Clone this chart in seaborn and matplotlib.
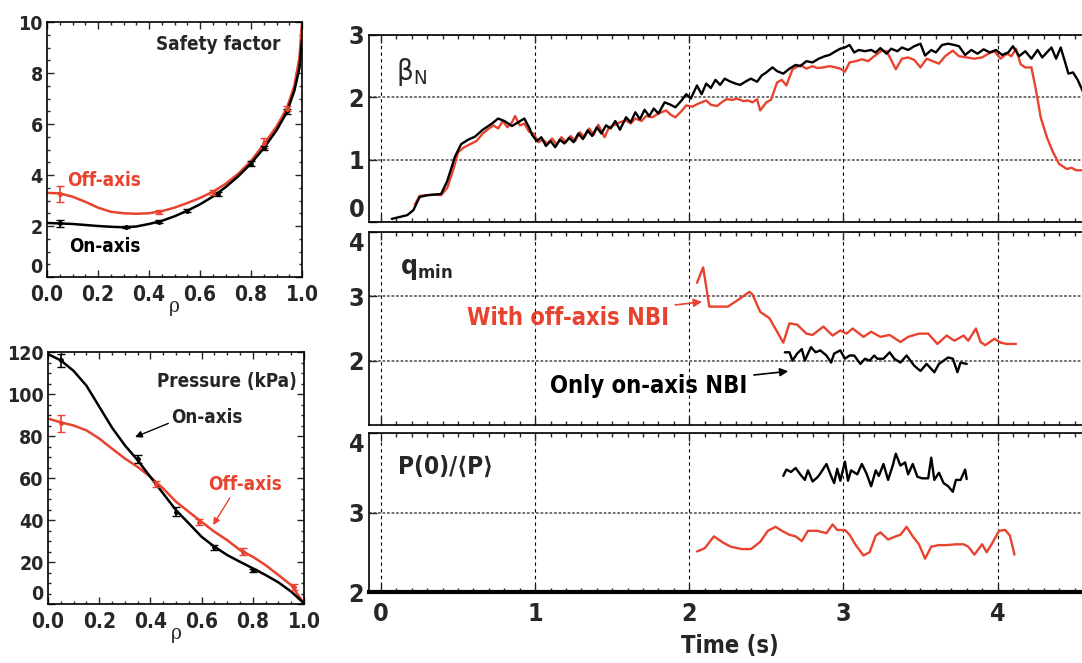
import matplotlib
matplotlib.use("Agg")
import matplotlib.pyplot as plt
from matplotlib.ticker import MultipleLocator
import seaborn as sns

RED = "#e8432e"

# ---- safety factor profile (left top) ----
rho_q = [0, 0.05, 0.1, 0.15, 0.2, 0.25, 0.3, 0.35, 0.4, 0.45, 0.5, 0.55, 0.6,
         0.65, 0.7, 0.75, 0.8, 0.85, 0.9, 0.94, 0.97, 0.99, 1.0]
q_on = [2.12, 2.10, 2.08, 2.04, 2.00, 1.97, 1.95, 1.98, 2.08, 2.20, 2.38, 2.60, 2.85,
        3.15, 3.52, 3.95, 4.45, 5.05, 5.75, 6.45, 7.3, 8.2, 9.3]
q_off = [3.30, 3.28, 3.15, 2.95, 2.72, 2.56, 2.50, 2.48, 2.50, 2.58, 2.72, 2.90, 3.10,
         3.34, 3.65, 4.05, 4.55, 5.20, 5.90, 6.60, 7.5, 8.6, 10.0]
q_on_err_rho = [0.05, 0.31, 0.44, 0.55, 0.67, 0.80, 0.85, 0.94]
q_on_err_val = [2.10, 1.95, 2.17, 2.60, 3.25, 4.45, 5.05, 6.50]
q_on_err = [0.15, 0.04, 0.05, 0.05, 0.07, 0.1, 0.08, 0.1]
q_off_err_rho = [0.05, 0.44, 0.65, 0.85, 0.94]
q_off_err_val = [3.25, 2.55, 3.32, 5.25, 6.60]
q_off_err = [0.3, 0.06, 0.1, 0.2, 0.1]

# ---- pressure profile (left bottom) ----
rho_p = [0, 0.05, 0.1, 0.15, 0.2, 0.25, 0.3, 0.35, 0.4, 0.45, 0.5, 0.55, 0.6,
         0.65, 0.7, 0.75, 0.8, 0.85, 0.9, 0.95, 1.0]
p_on = [119, 116, 111, 104, 94, 84, 75.6, 68.5, 60.5, 52.6, 44.7, 38.4, 32,
        27.3, 23.3, 20.1, 17, 13.8, 10.3, 5.9, 0.3]
p_off = [88.3, 86.5, 85, 82.7, 78.8, 74, 69.3, 65.3, 60.5, 55, 48.7, 43.9, 39.1,
         34.4, 30.4, 25.7, 22.5, 18.5, 13.8, 9, 0.3]
p_on_err_rho = [0.05, 0.35, 0.50, 0.65, 0.80]
p_on_err_val = [116, 69, 44, 27, 16]
p_on_err = [3, 2, 2, 1.2, 0.8]
p_off_err_rho = [0.05, 0.42, 0.59, 0.76, 0.96]
p_off_err_val = [86, 57, 39, 25, 8]
p_off_err = [4, 1.5, 1.5, 1.5, 1.5]

# ---- beta_N time traces ----
t_beta_on = [0.07, 0.17, 0.21, 0.25, 0.30, 0.35, 0.39, 0.43, 0.48, 0.52, 0.565, 0.61, 0.66,
             0.72, 0.76, 0.80, 0.85, 0.89, 0.93, 0.96, 0.98, 1.01, 1.04, 1.07, 1.10, 1.13,
             1.16, 1.19, 1.22, 1.25, 1.28, 1.31, 1.34, 1.37, 1.40, 1.43, 1.46, 1.49, 1.52,
             1.55, 1.59, 1.62, 1.65, 1.68, 1.71, 1.74, 1.77, 1.80, 1.84, 1.88, 1.91, 1.95,
             1.98, 2.01, 2.05, 2.08, 2.11, 2.14, 2.17, 2.20, 2.23, 2.26, 2.30, 2.33, 2.37,
             2.40, 2.44, 2.47, 2.50, 2.54, 2.57, 2.61, 2.65, 2.69, 2.72, 2.76, 2.80, 2.84,
             2.88, 2.91, 2.95, 2.98, 3.01, 3.04, 3.07, 3.10, 3.14, 3.18, 3.21, 3.24, 3.28,
             3.31, 3.35, 3.38, 3.42, 3.46, 3.50, 3.53, 3.57, 3.60, 3.64, 3.68, 3.72, 3.75,
             3.79, 3.83, 3.87, 3.91, 3.95, 3.99, 4.03, 4.07, 4.10, 4.14, 4.18, 4.22, 4.26,
             4.29, 4.32, 4.35, 4.38, 4.41, 4.44, 4.46, 4.49, 4.52, 4.56]
beta_on = [0.05, 0.11, 0.19, 0.40, 0.43, 0.44, 0.45, 0.66, 1.05, 1.25, 1.32, 1.37, 1.48,
           1.58, 1.66, 1.62, 1.54, 1.60, 1.66, 1.52, 1.40, 1.30, 1.36, 1.22, 1.30, 1.20,
           1.32, 1.26, 1.35, 1.28, 1.42, 1.33, 1.47, 1.38, 1.52, 1.42, 1.55, 1.50, 1.62,
           1.48, 1.68, 1.60, 1.76, 1.65, 1.80, 1.70, 1.82, 1.74, 1.92, 1.88, 1.84, 1.95,
           2.05, 1.98, 2.19, 2.05, 2.22, 2.15, 2.28, 2.20, 2.30, 2.26, 2.22, 2.20, 2.26,
           2.30, 2.25, 2.35, 2.40, 2.48, 2.42, 2.38, 2.46, 2.52, 2.50, 2.58, 2.56, 2.62,
           2.66, 2.68, 2.74, 2.78, 2.80, 2.84, 2.72, 2.76, 2.74, 2.76, 2.72, 2.79, 2.70,
           2.78, 2.74, 2.80, 2.76, 2.82, 2.86, 2.67, 2.76, 2.72, 2.84, 2.86, 2.84, 2.82,
           2.68, 2.76, 2.70, 2.77, 2.72, 2.76, 2.68, 2.72, 2.82, 2.66, 2.74, 2.62, 2.76,
           2.64, 2.72, 2.80, 2.62, 2.80, 2.55, 2.38, 2.40, 2.28, 2.06]
t_beta_off = [0.22, 0.25, 0.30, 0.35, 0.39, 0.43, 0.47, 0.50, 0.54, 0.58, 0.62, 0.66, 0.70,
              0.73, 0.76, 0.79, 0.82, 0.85, 0.87, 0.90, 0.93, 0.96, 0.99, 1.02, 1.05, 1.08,
              1.11, 1.14, 1.17, 1.20, 1.23, 1.26, 1.29, 1.32, 1.35, 1.38, 1.41, 1.45, 1.48,
              1.51, 1.55, 1.59, 1.62, 1.65, 1.69, 1.72, 1.76, 1.80, 1.85, 1.88, 1.91, 1.95,
              1.98, 2.02, 2.06, 2.11, 2.14, 2.18, 2.21, 2.24, 2.28, 2.31, 2.35, 2.38, 2.41,
              2.44, 2.46, 2.50, 2.53, 2.57, 2.60, 2.63, 2.67, 2.72, 2.76, 2.80, 2.83, 2.87,
              2.91, 2.95, 2.98, 3.01, 3.04, 3.08, 3.12, 3.16, 3.20, 3.25, 3.28, 3.31, 3.34,
              3.38, 3.42, 3.46, 3.50, 3.54, 3.58, 3.62, 3.66, 3.71, 3.75, 3.80, 3.85, 3.90,
              3.94, 3.98, 4.02, 4.06, 4.09, 4.12, 4.15, 4.18, 4.22, 4.25, 4.28, 4.32, 4.36,
              4.40, 4.45, 4.48, 4.51, 4.56]
beta_off = [0.28, 0.42, 0.43, 0.44, 0.43, 0.55, 0.85, 1.12, 1.20, 1.25, 1.30, 1.42, 1.50,
            1.55, 1.50, 1.62, 1.52, 1.60, 1.70, 1.55, 1.58, 1.45, 1.42, 1.28, 1.32, 1.26,
            1.34, 1.24, 1.36, 1.28, 1.38, 1.30, 1.44, 1.36, 1.50, 1.40, 1.56, 1.36, 1.52,
            1.55, 1.60, 1.63, 1.58, 1.66, 1.62, 1.70, 1.68, 1.74, 1.79, 1.72, 1.68, 1.78,
            1.87, 1.85, 1.90, 1.95, 1.88, 1.86, 1.92, 1.97, 1.96, 1.98, 1.94, 1.95, 1.92,
            1.97, 1.79, 1.92, 1.96, 2.24, 2.28, 2.19, 2.45, 2.52, 2.46, 2.50, 2.47, 2.48,
            2.50, 2.48, 2.46, 2.41, 2.56, 2.58, 2.61, 2.58, 2.66, 2.75, 2.74, 2.60, 2.45,
            2.62, 2.64, 2.60, 2.48, 2.62, 2.58, 2.54, 2.66, 2.75, 2.66, 2.64, 2.62, 2.64,
            2.70, 2.74, 2.62, 2.70, 2.66, 2.78, 2.53, 2.48, 2.48, 2.11, 1.68, 1.36, 1.12,
            0.93, 0.85, 0.87, 0.83, 0.83]

# ---- q_min time traces ----
t_qmin_off = [2.05, 2.09, 2.13, 2.19, 2.25, 2.32, 2.39, 2.41, 2.46, 2.52, 2.57, 2.61, 2.65,
              2.70, 2.76, 2.80, 2.87, 2.93, 2.98, 3.02, 3.06, 3.13, 3.18, 3.24, 3.30, 3.37,
              3.42, 3.49, 3.55, 3.61, 3.67, 3.72, 3.78, 3.81, 3.86, 3.89, 3.92, 3.98, 4.02,
              4.06, 4.12]
qmin_off = [3.21, 3.45, 2.84, 2.84, 2.84, 2.95, 3.07, 3.03, 2.76, 2.66, 2.45, 2.28, 2.58,
            2.56, 2.42, 2.40, 2.53, 2.39, 2.47, 2.42, 2.50, 2.37, 2.45, 2.37, 2.40, 2.29,
            2.37, 2.42, 2.42, 2.26, 2.39, 2.31, 2.39, 2.31, 2.50, 2.29, 2.24, 2.34, 2.28,
            2.26, 2.26]
t_qmin_on = [2.62, 2.65, 2.67, 2.70, 2.73, 2.75, 2.77, 2.79, 2.82, 2.85, 2.89, 2.92, 2.94,
             2.98, 3.01, 3.04, 3.07, 3.11, 3.14, 3.17, 3.20, 3.22, 3.26, 3.30, 3.33, 3.37,
             3.41, 3.46, 3.50, 3.54, 3.59, 3.62, 3.65, 3.68, 3.71, 3.74, 3.76, 3.80]
qmin_on = [2.13, 2.13, 2.00, 2.11, 2.18, 2.00, 2.11, 2.21, 2.13, 2.16, 2.08, 1.97, 2.11,
           2.16, 2.03, 2.08, 2.08, 1.95, 2.03, 2.00, 2.08, 2.03, 2.03, 2.13, 2.03, 1.97,
           2.08, 1.92, 1.84, 1.95, 1.82, 1.95, 2.00, 2.05, 2.03, 1.82, 1.97, 1.95]

# ---- P(0)/<P> time traces ----
t_peak_on = [2.61, 2.63, 2.66, 2.69, 2.72, 2.75, 2.77, 2.80, 2.83, 2.85, 2.89, 2.92, 2.94,
             2.96, 2.98, 3.01, 3.03, 3.05, 3.09, 3.12, 3.15, 3.18, 3.21, 3.23, 3.26, 3.29,
             3.32, 3.34, 3.37, 3.40, 3.42, 3.45, 3.48, 3.51, 3.55, 3.57, 3.59, 3.62, 3.65,
             3.68, 3.71, 3.73, 3.76, 3.79, 3.80]
peak_on = [3.46, 3.54, 3.51, 3.56, 3.48, 3.41, 3.53, 3.39, 3.44, 3.49, 3.61, 3.46, 3.37,
           3.55, 3.40, 3.64, 3.40, 3.53, 3.48, 3.61, 3.49, 3.33, 3.53, 3.46, 3.61, 3.41,
           3.59, 3.74, 3.59, 3.63, 3.48, 3.61, 3.45, 3.43, 3.43, 3.69, 3.41, 3.50, 3.37,
           3.33, 3.26, 3.41, 3.41, 3.54, 3.42]
t_peak_off = [2.05, 2.10, 2.16, 2.22, 2.27, 2.34, 2.40, 2.46, 2.51, 2.56, 2.60, 2.65, 2.69,
              2.73, 2.77, 2.83, 2.89, 2.93, 2.96, 3.01, 3.04, 3.08, 3.13, 3.17, 3.21, 3.24,
              3.29, 3.34, 3.37, 3.41, 3.45, 3.49, 3.53, 3.57, 3.62, 3.67, 3.73, 3.78, 3.81,
              3.85, 3.90, 3.93, 3.97, 4.01, 4.05, 4.08, 4.11]
peak_off = [2.51, 2.55, 2.70, 2.62, 2.57, 2.54, 2.54, 2.63, 2.77, 2.82, 2.77, 2.72, 2.70,
            2.64, 2.77, 2.77, 2.74, 2.85, 2.78, 2.78, 2.72, 2.59, 2.46, 2.50, 2.71, 2.75,
            2.66, 2.70, 2.72, 2.82, 2.70, 2.60, 2.42, 2.57, 2.59, 2.59, 2.60, 2.60, 2.57,
            2.47, 2.60, 2.50, 2.63, 2.77, 2.78, 2.71, 2.47]

sns.set_theme(style="ticks")
plt.rcParams["font.family"] = ["DejaVu Sans"]
plt.rcParams["font.stretch"] = "condensed"
plt.rcParams["font.weight"] = "bold"
plt.rcParams["axes.labelweight"] = "bold"
plt.rcParams["mathtext.default"] = "regular"
plt.rcParams["axes.linewidth"] = 1.2

W, H = 1082, 663
fig = plt.figure(figsize=(W / 100, H / 100), dpi=100)


def px_axes(x0, y0, x1, y1):
    return fig.add_axes([x0 / W, 1 - y1 / H, (x1 - x0) / W, (y1 - y0) / H])


def line(ax, x, y, color, lw=1.8):
    sns.lineplot(x=x, y=y, ax=ax, color=color, lw=lw, estimator=None, sort=False)


def set_label_va(ax, value, va):
    # shift one y tick label so it sits inside the panel
    for tk in ax.yaxis.get_major_ticks():
        if abs(tk.get_loc() - value) < 1e-9:
            tk.label1.set_verticalalignment(va)


def style_left(ax, ymax, ystep, yminor):
    ax.set_xlim(0, 1)
    ax.set_ylim(0, ymax)
    ax.xaxis.set_major_locator(MultipleLocator(0.2))
    ax.xaxis.set_minor_locator(MultipleLocator(0.05))
    ax.yaxis.set_major_locator(MultipleLocator(ystep))
    ax.yaxis.set_minor_locator(MultipleLocator(yminor))
    ax.tick_params(which="both", direction="in", top=True, right=True, width=1)
    ax.tick_params(axis="x", labelsize=15, pad=6)
    ax.tick_params(axis="y", labelsize=14, pad=3)
    ax.tick_params(which="major", length=5)
    ax.tick_params(which="minor", length=2.5)
    ax.xaxis.set_major_formatter(plt.FuncFormatter(lambda v, p: f"{v:.1f}"))
    ax.set_xlabel("ρ", family="DejaVu Serif", fontweight="normal", fontsize=15, labelpad=-6)
    ax.set_ylabel("")
    for s in ax.spines.values():
        s.set_color("black")


# ---- left top: safety factor ----
axq = px_axes(47, 22, 302, 277)
line(axq, rho_q, q_off, RED)
line(axq, rho_q, q_on, "black")
axq.errorbar(q_on_err_rho, q_on_err_val, yerr=q_on_err, fmt="o", ms=2.5, color="black",
             capsize=3, elinewidth=1.2)
axq.errorbar(q_off_err_rho, q_off_err_val, yerr=q_off_err, fmt="o", ms=2.5, color=RED,
             capsize=3, elinewidth=1.2)
style_left(axq, 10, 2, 0.5)
axq.text(0.67, 9.1, "Safety factor", ha="center", va="center", fontsize=13.5)
axq.text(0.225, 3.8, "Off-axis", ha="center", va="center", fontsize=13.5, color=RED)
axq.text(0.225, 1.18, "On-axis", ha="center", va="center", fontsize=13.5, color="black")

# ---- left bottom: pressure ----
axp = px_axes(48, 352, 304, 604)
line(axp, rho_p, p_off, RED)
line(axp, rho_p, p_on, "black")
axp.errorbar(p_on_err_rho, p_on_err_val, yerr=p_on_err, fmt="o", ms=2.5, color="black",
             capsize=3, elinewidth=1.2)
axp.errorbar(p_off_err_rho, p_off_err_val, yerr=p_off_err, fmt="o", ms=2.5, color=RED,
             capsize=3, elinewidth=1.2)
style_left(axp, 120, 20, 5)
axp.text(0.70, 106, "Pressure (kPa)", ha="center", va="center", fontsize=13.5)
axp.text(0.62, 89, "On-axis", ha="center", va="center", fontsize=13.5)
axp.annotate("", xy=(0.34, 79.5), xytext=(0.47, 86),
             arrowprops=dict(arrowstyle="-|>", color="black", lw=1, mutation_scale=10,
                             shrinkA=0, shrinkB=0))
axp.text(0.77, 57, "Off-axis", ha="center", va="center", fontsize=13.5, color=RED)
axp.annotate("", xy=(0.645, 37.6), xytext=(0.71, 50.5),
             arrowprops=dict(arrowstyle="-|>", color=RED, lw=1, mutation_scale=10,
                             shrinkA=0, shrinkB=0))

# ---- right panels ----
XL = (-0.078, 4.60)
ax1 = px_axes(369, 35, 1090, 222)
ax2 = px_axes(369, 232, 1090, 425)
ax3 = px_axes(369, 433, 1090, 592)

line(ax1, t_beta_off, beta_off, RED, lw=1.7)
line(ax1, t_beta_on, beta_on, "black", lw=1.7)
line(ax2, t_qmin_off, qmin_off, RED, lw=1.7)
line(ax2, t_qmin_on, qmin_on, "black", lw=1.7)
line(ax3, t_peak_off, peak_off, RED, lw=1.7)
line(ax3, t_peak_on, peak_on, "black", lw=1.7)

for ax, yl, yt in [(ax1, (0, 3), [0, 1, 2, 3]), (ax2, (1, 4), [2, 3, 4]),
                   (ax3, (2, 4), [2, 3, 4])]:
    ax.set_xlim(*XL)
    ax.set_ylim(*yl)
    ax.set_yticks(yt)
    ax.set_xticks([0, 1, 2, 3, 4])
    ax.xaxis.set_minor_locator(MultipleLocator(0.1))
    ax.tick_params(which="both", direction="in", top=True, labelsize=18, width=1)
    ax.tick_params(which="major", length=6)
    ax.tick_params(which="minor", length=3)
    ax.set_xlabel("")
    ax.set_ylabel("")
    for v in yt:
        ax.axhline(v, color="#666666", lw=1.3, ls=(0, (1.5, 1)), zorder=0)
    for v in [0, 1, 2, 3, 4]:
        ax.axvline(v, color="black", lw=0.8, ls=(0, (3, 3)), zorder=0)
    ax.spines["right"].set_visible(False)
    for s in ax.spines.values():
        s.set_color("black")
    if ax is not ax3:
        ax.tick_params(labelbottom=False)

ax3.tick_params(axis="x", pad=7)
ax3.spines["bottom"].set_linewidth(3)
ax3.set_xlabel("Time (s)", fontsize=17, fontweight="bold", labelpad=6)

ax1.text(0.10, 2.4, r"$\beta_N$", ha="left", va="center", fontsize=21, fontweight="normal")
ax2.text(0.12, 3.43, r"$q_{min}$", ha="left", va="center", fontsize=19)
ax3.text(0.11, 3.58, "P(0)/⟨P⟩", ha="left", va="center", fontsize=17.5)

ax2.annotate("With off-axis NBI", xy=(2.10, 2.92), xytext=(1.87, 2.67), ha="right",
             va="center", fontsize=17, color=RED,
             arrowprops=dict(arrowstyle="-|>", color=RED, lw=1.2, mutation_scale=12,
                             shrinkA=2))
ax2.annotate("Only on-axis NBI", xy=(2.66, 1.84), xytext=(2.38, 1.60), ha="right",
             va="center", fontsize=17, color="black",
             arrowprops=dict(arrowstyle="-|>", color="black", lw=1.2, mutation_scale=12,
                             shrinkA=2))

# inset the end labels of each panel like the original figure
fig.canvas.draw()
set_label_va(axq, 0, "bottom")
set_label_va(axp, 0, "bottom")
set_label_va(ax1, 0, "bottom")
set_label_va(ax2, 4, "top")
set_label_va(ax3, 4, "top")

fig.savefig("out.png", dpi=100)
